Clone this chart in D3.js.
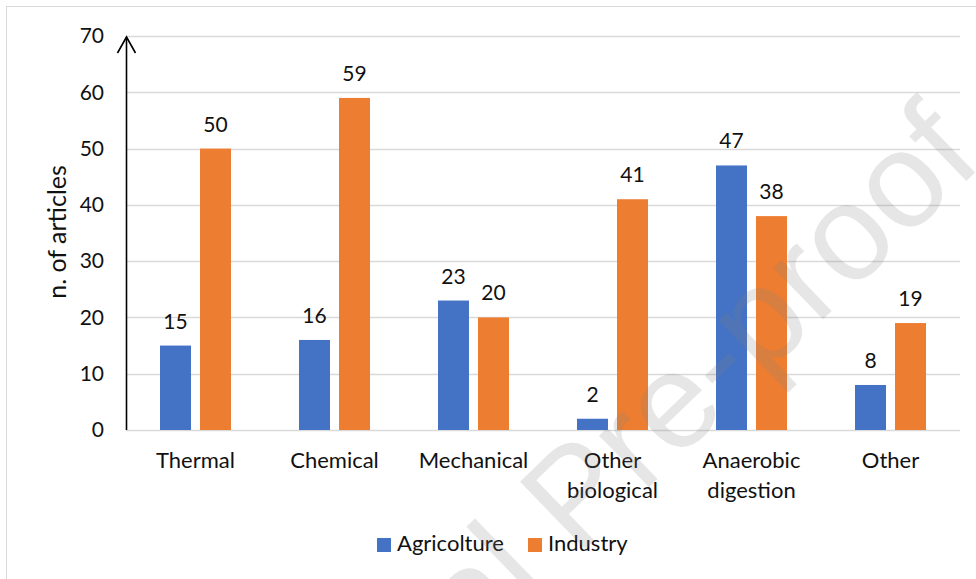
<!DOCTYPE html>
<html>
<head>
<meta charset="utf-8">
<script src="https://cdn.jsdelivr.net/npm/d3@7"></script>
<style>
  html, body { margin: 0; padding: 0; background: #fff; }
  svg { display: block; font-family: Lato, "Open Sans", sans-serif; }
</style>
</head>
<body>
<svg id="chart" width="976" height="579"></svg>
<script>
// Treatment categories (x axis)
const categories = [
  ["Thermal"],
  ["Chemical"],
  ["Mechanical"],
  ["Other", "biological"],
  ["Anaerobic", "digestion"],
  ["Other"]
];
const categoryKeys = ["Thermal", "Chemical", "Mechanical", "Other biological", "Anaerobic digestion", "Other (misc)"];

// Number of articles per sector
const seriesNames = ["Agricolture", "Industry"];
const agricolture = [15, 16, 23, 2, 47, 8];
const industry = [50, 59, 20, 41, 38, 19];
const seriesColors = ["#4472C4", "#ED7D31"];

// Y axis ticks
const yTicks = [0, 10, 20, 30, 40, 50, 60, 70];
const yLabel = "n. of articles";
const watermark = "Journal Pre-proof";

const svg = d3.select("#chart");

// outer frame
svg.append("rect")
  .attr("x", 6.5).attr("y", 6.5)
  .attr("width", 1000).attr("height", 1000)
  .attr("fill", "#fff")
  .attr("stroke", "#d9d9d9").attr("stroke-width", 1);

const plot = { left: 126, right: 960, top: 36, bottom: 430 };

const y = d3.scaleLinear().domain([0, 70]).range([plot.bottom, plot.top]);
const x0 = d3.scaleBand().domain(categoryKeys).range([plot.left, plot.right]).padding(0);
const x1 = d3.scaleBand().domain(seriesNames).range([0, x0.bandwidth()])
  .paddingInner(0.225).paddingOuter(0.85);

// gridlines
svg.append("g")
  .selectAll("line")
  .data(yTicks)
  .join("line")
  .attr("x1", plot.left).attr("x2", plot.right)
  .attr("y1", d => Math.round(y(d)) + 0.5).attr("y2", d => Math.round(y(d)) + 0.5)
  .attr("stroke", "#d9d9d9").attr("stroke-width", 1.3);

// y axis tick labels
const yAxis = d3.axisLeft(y).tickValues(yTicks).tickSize(0).tickPadding(22);
const gy = svg.append("g").attr("transform", `translate(${plot.left},0)`).call(yAxis);
gy.select(".domain").remove();
gy.selectAll("text")
  .attr("font-size", 21).attr("fill", "#111")
  .attr("font-family", "Lato, sans-serif");

// bars
const series = seriesNames.map((name, i) => ({
  name, color: seriesColors[i], values: i === 0 ? agricolture : industry
}));

const groups = svg.append("g")
  .selectAll("g")
  .data(categoryKeys)
  .join("g")
  .attr("transform", d => `translate(${x0(d)},0)`);

groups.selectAll("rect")
  .data((d, ci) => series.map(s => ({ s: s.name, color: s.color, v: s.values[ci] })))
  .join("rect")
  .attr("x", d => x1(d.s))
  .attr("width", x1.bandwidth())
  .attr("y", d => y(d.v))
  .attr("height", d => y(0) - y(d.v))
  .attr("fill", d => d.color);

// value labels
groups.selectAll("text.val")
  .data((d, ci) => series.map(s => ({ s: s.name, v: s.values[ci] })))
  .join("text")
  .attr("class", "val")
  .attr("x", d => x1(d.s) + x1.bandwidth() / 2)
  .attr("y", d => y(d.v) - 17)
  .attr("text-anchor", "middle")
  .attr("font-size", 21).attr("fill", "#111")
  .text(d => d.v);

// y axis line with arrow
svg.append("line")
  .attr("x1", plot.left + 0.5).attr("x2", plot.left + 0.5)
  .attr("y1", plot.bottom).attr("y2", plot.top + 1)
  .attr("stroke", "#000").attr("stroke-width", 1.6);
svg.append("path")
  .attr("d", `M${plot.left - 8.5},${plot.top + 17} L${plot.left + 0.5},${plot.top + 1} L${plot.left + 9.5},${plot.top + 17}`)
  .attr("fill", "none").attr("stroke", "#000").attr("stroke-width", 1.6);

// category labels
const catText = svg.append("g")
  .selectAll("text")
  .data(categoryKeys)
  .join("text")
  .attr("x", d => x0(d) + x0.bandwidth() / 2)
  .attr("y", 468)
  .attr("text-anchor", "middle")
  .attr("font-size", 22).attr("fill", "#111");
catText.selectAll("tspan")
  .data((d, i) => categories[i])
  .join("tspan")
  .attr("x", function () { return d3.select(this.parentNode).attr("x"); })
  .attr("dy", (d, i) => i === 0 ? 0 : 30)
  .text(d => d);

// y axis title
svg.append("text")
  .attr("transform", "translate(66,232) rotate(-90)")
  .attr("text-anchor", "middle")
  .attr("font-size", 25).attr("fill", "#111")
  .text(yLabel);

// legend
const legendItems = [
  { name: seriesNames[0], color: seriesColors[0], x: 377 },
  { name: seriesNames[1], color: seriesColors[1], x: 528 }
];
const lg = svg.append("g").selectAll("g").data(legendItems).join("g")
  .attr("transform", d => `translate(${d.x},538)`);
lg.append("rect").attr("width", 14).attr("height", 14).attr("fill", d => d.color);
lg.append("text").attr("x", 20).attr("y", 13)
  .attr("font-size", 22).attr("fill", "#111")
  .text(d => d.name);

// diagonal watermark
svg.append("text")
  .attr("transform", "translate(607,528) rotate(-44)")
  .attr("text-anchor", "middle")
  .attr("font-family", "Liberation Sans, Arial, sans-serif")
  .attr("font-size", 136)
  .attr("fill", "#808080").attr("fill-opacity", 0.2)
  .text(watermark);
</script>
</body>
</html>
